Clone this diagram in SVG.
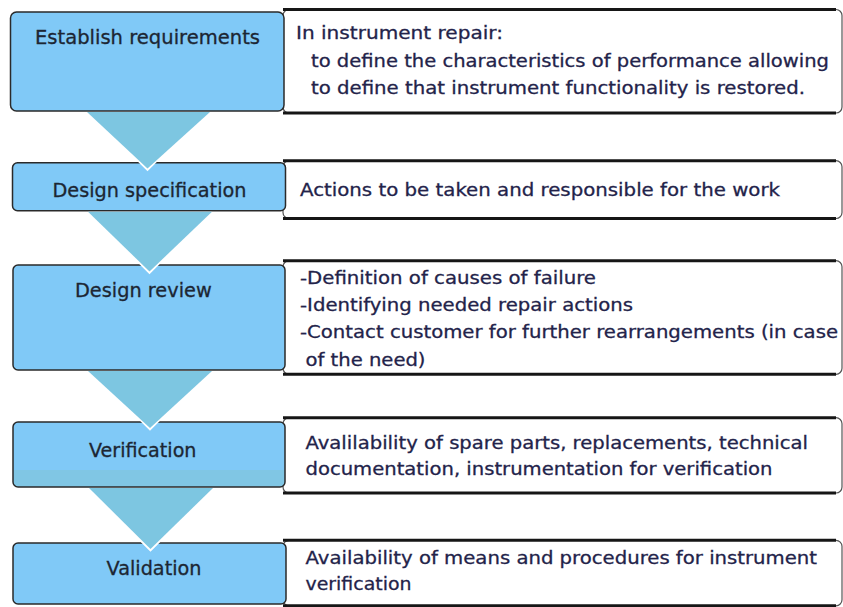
<svg xmlns="http://www.w3.org/2000/svg" width="843" height="607" viewBox="0 0 843 607">
<style>
.panel{fill:#ffffff;stroke:#555;stroke-width:1.2}
.edge{stroke:#161616;stroke-width:3;fill:none}
.box{fill:#80C9F7}
.boxline{fill:none;stroke:#2a2a2a;stroke-width:1.5}
.tri{fill:#7DC6E1}
.notch{fill:none;stroke:#ffffff;stroke-width:4;stroke-linejoin:miter}
.lbl{font-family:"DejaVu Sans","Verdana",sans-serif;font-size:19px;fill:#1c2633;stroke:#1c2633;stroke-width:0.3}
.txt{font-family:"DejaVu Sans","Verdana",sans-serif;font-size:18px;fill:#23234a;stroke:#23234a;stroke-width:0.3}
</style>
<rect width="843" height="607" fill="#ffffff"/>

<g id="panel1">
<rect class="panel" x="283" y="9.5" width="559" height="103.5" rx="6"/>
<line class="edge" x1="283" y1="9.5" x2="836" y2="9.5"/>
<line class="edge" x1="283" y1="113" x2="836" y2="113"/>
<text class="txt" x="296" y="39.3" textLength="207" lengthAdjust="spacingAndGlyphs">In instrument repair:</text>
<text class="txt" x="311" y="66.7" textLength="518" lengthAdjust="spacingAndGlyphs">to define the characteristics of performance allowing</text>
<text class="txt" x="311" y="94.3" textLength="494" lengthAdjust="spacingAndGlyphs">to define that instrument functionality is restored.</text>
</g>

<g id="panel2">
<rect class="panel" x="283" y="160.7" width="559" height="57.8" rx="6"/>
<line class="edge" x1="283" y1="160.7" x2="836" y2="160.7"/>
<line class="edge" x1="283" y1="218.5" x2="836" y2="218.5"/>
<text class="txt" x="300" y="196" textLength="480" lengthAdjust="spacingAndGlyphs">Actions to be taken and responsible for the work</text>
</g>

<g id="panel3">
<rect class="panel" x="283" y="260.7" width="559" height="113.6" rx="6"/>
<line class="edge" x1="283" y1="260.7" x2="836" y2="260.7"/>
<line class="edge" x1="283" y1="374.3" x2="836" y2="374.3"/>
<text class="txt" x="300" y="284" textLength="296" lengthAdjust="spacingAndGlyphs">-Definition of causes of failure</text>
<text class="txt" x="300" y="310.7" textLength="333" lengthAdjust="spacingAndGlyphs">-Identifying needed repair actions</text>
<text class="txt" x="300" y="338.3" textLength="538" lengthAdjust="spacingAndGlyphs">-Contact customer for further rearrangements (in case</text>
<text class="txt" x="305.5" y="365.7" textLength="120" lengthAdjust="spacingAndGlyphs">of the need)</text>
</g>

<g id="panel4">
<rect class="panel" x="283" y="417.7" width="559" height="75.3" rx="6"/>
<line class="edge" x1="283" y1="417.7" x2="836" y2="417.7"/>
<line class="edge" x1="283" y1="493" x2="836" y2="493"/>
<text class="txt" x="305.5" y="448.7" textLength="502.5" lengthAdjust="spacingAndGlyphs">Avalilability of spare parts, replacements, technical</text>
<text class="txt" x="305.5" y="475.3" textLength="467" lengthAdjust="spacingAndGlyphs">documentation, instrumentation for verification</text>
</g>

<g id="panel5">
<rect class="panel" x="283" y="540.3" width="559" height="65.5" rx="6"/>
<line class="edge" x1="283" y1="540.3" x2="836" y2="540.3"/>
<line class="edge" x1="283" y1="605.8" x2="836" y2="605.8"/>
<text class="txt" x="305.5" y="563.7" textLength="511.5" lengthAdjust="spacingAndGlyphs">Availability of means and procedures for instrument</text>
<text class="txt" x="305.5" y="590.3" textLength="106" lengthAdjust="spacingAndGlyphs">verification</text>
</g>

<g id="step1">
<rect class="box" x="10.5" y="12" width="273.5" height="99" rx="6"/>
<rect class="boxline" x="10.5" y="12" width="273.5" height="99" rx="6"/>
<text class="lbl" x="35" y="44" textLength="225" lengthAdjust="spacingAndGlyphs">Establish requirements</text>
</g>

<g id="step2">
<rect class="box" x="12.5" y="162.7" width="273" height="48" rx="5"/>
<rect class="boxline" x="12.5" y="162.7" width="273" height="48" rx="5"/>
<text class="lbl" x="52.5" y="196.7" textLength="194" lengthAdjust="spacingAndGlyphs">Design specification</text>
</g>

<g id="step3">
<rect class="box" x="13" y="265" width="272" height="105" rx="5"/>
<rect class="boxline" x="13" y="265" width="272" height="105" rx="5"/>
<text class="lbl" x="75" y="297.3" textLength="136.7" lengthAdjust="spacingAndGlyphs">Design review</text>
</g>

<g id="step4">
<rect class="box" x="13" y="422" width="272" height="65" rx="5"/>
<path d="M13 470 H285 V482 A5 5 0 0 1 280 487 H18 A5 5 0 0 1 13 482 Z" fill="#80C6E4"/>
<rect class="boxline" x="13" y="422" width="272" height="65" rx="5"/>
<text class="lbl" x="89" y="456.7" textLength="107.5" lengthAdjust="spacingAndGlyphs">Verification</text>
</g>

<g id="step5">
<rect class="box" x="13" y="543" width="273" height="61" rx="5"/>
<rect class="boxline" x="13" y="543" width="273" height="61" rx="5"/>
<text class="lbl" x="106.5" y="575" textLength="95" lengthAdjust="spacingAndGlyphs">Validation</text>
</g>

<g id="connectors">
<g id="arrow1">
<polyline class="notch" points="127,148 147.5,168.5 168,148"/>
<polygon class="tri" points="87,112 210,112 147.5,168.5"/>
</g>
<g id="arrow2">
<polyline class="notch" points="129,251 149.5,271.5 170,251"/>
<polygon class="tri" points="88,211.8 212,211.8 149.5,271.5"/>
</g>
<g id="arrow3">
<polyline class="notch" points="130,408 150,428 170,408"/>
<polygon class="tri" points="88,371 212,371 150,428"/>
</g>
<g id="arrow4">
<polyline class="notch" points="130.5,529 150.5,549 170.5,529"/>
<polygon class="tri" points="89,488 213,488 150.5,549"/>
</g>
</g>
</svg>
